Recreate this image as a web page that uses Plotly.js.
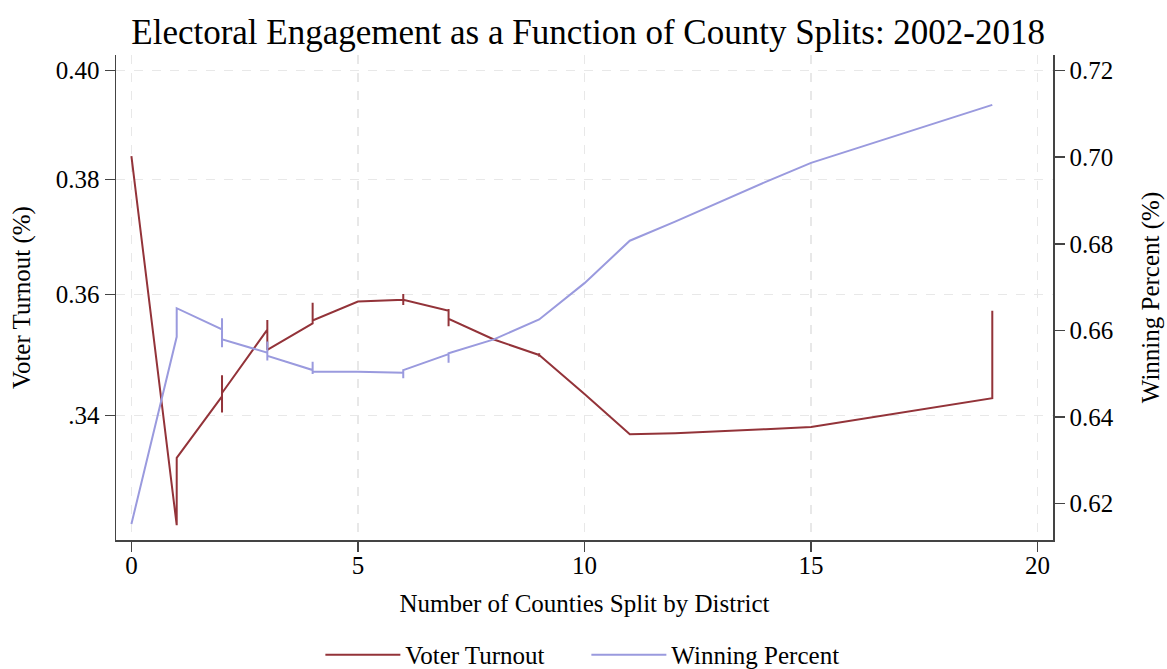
<!DOCTYPE html>
<html><head><meta charset="utf-8">
<script src="https://cdn.plot.ly/plotly-3.0.1.min.js"></script>
<style>html,body{margin:0;padding:0;background:#fff}</style>
</head><body>
<div id="chart" style="width:1167px;height:669px"></div>
<script>
// Number of counties split (repeated x values give Stata-style vertical segments)
const turnoutX = [0,1,1,2,2,2,2,3,3,3,4,4,4,5,6,6,6,6,7,7,7,7,8,9,9,9,9,10,11,12,13,14,15,19,19];
const turnoutY = [0.3846,0.3204,0.3321,0.3428,0.3400,0.3465,0.3434,0.3544,0.3561,0.3509,
                  0.3555,0.3591,0.3560,0.3593,0.3596,0.3606,0.3587,0.3596,0.3577,0.3580,0.3550,0.3563,
                  0.3527,0.3500,0.3503,0.3497,0.3500,0.3432,0.3362,0.3364,0.3367,0.3371,0.3375,0.3425,0.3577];
const winX = [0,1,1,2,2,2,2,3,3,3,3,4,4,4,4,5,6,6,6,6,7,7,7,8,9,10,11,12,13,14,15,19];
const winY = [0.6152,0.6585,0.6651,0.6602,0.6628,0.6561,0.6579,0.6548,0.6574,0.6530,0.6541,
              0.6508,0.6527,0.6499,0.6504,0.6504,0.6502,0.6489,0.6510,0.6508,0.6545,0.6525,0.6547,
              0.6579,0.6625,0.6709,0.6807,0.6851,0.6897,0.6943,0.6987,0.7121];
const xTicks = [0,5,10,15,20];
const leftTickVals = [0.39944,0.38056,0.36056,0.33944];
const leftTickText = ["0.40","0.38","0.36",".34"];
const rightTicks = [0.62,0.64,0.66,0.68,0.70,0.72];

const FONT = "Liberation Serif, Times New Roman, serif";
const RED = "#933339", BLUE = "#9a9ade", AX = "#444";
const FS = 25;

const traces = [
  {x: turnoutX, y: turnoutY, type: "scatter", mode: "lines", name: "Voter Turnout",
   line: {color: RED, width: 2}, yaxis: "y"},
  {x: winX, y: winY, type: "scatter", mode: "lines", name: "Winning Percent",
   line: {color: BLUE, width: 2}, yaxis: "y2"}
];

const layout = {
  width: 1167, height: 669,
  paper_bgcolor: "#fff", plot_bgcolor: "#fff",
  margin: {l: 116, r: 114, t: 55, b: 129, autoexpand: false},
  font: {family: FONT, color: "#000", size: FS},
  title: {text: "Electoral Engagement as a Function of County Splits: 2002-2018",
          font: {family: FONT, size: 35, color: "#000"},
          x: 0.504, xanchor: "center", y: 0.952, yanchor: "middle"},
  xaxis: {range: [-0.34, 20.34], tickvals: xTicks, ticks: "outside", ticklen: 10, tickwidth: 1.5,
          tickcolor: AX, showline: true, linecolor: AX, linewidth: 1.5, zeroline: false,
          showgrid: true, gridcolor: "#e8e8e8", griddash: "dash", gridwidth: 1.5,
          tickfont: {size: FS}, ticklabelstandoff: -8,
          title: {text: "Number of Counties Split by District", font: {size: FS}, standoff: 17}},
  yaxis: {range: [0.31783, 0.40217], tickvals: leftTickVals, ticktext: leftTickText,
          ticks: "outside", ticklen: 10, tickwidth: 1.5, tickcolor: AX,
          showline: true, linecolor: AX, linewidth: 1.5, zeroline: false,
          showgrid: true, gridcolor: "#e8e8e8", griddash: "dash", gridwidth: 1.5,
          tickfont: {size: FS},
          title: {text: "Voter Turnout (%)", font: {size: FS}, standoff: 18}},
  yaxis2: {range: [0.61152, 0.72363], tickvals: rightTicks, tickformat: ".2f",
           overlaying: "y", side: "right",
           ticks: "outside", ticklen: 10, tickwidth: 1.5, tickcolor: AX,
           showline: true, linecolor: AX, linewidth: 1.5, zeroline: false, showgrid: false,
           tickfont: {size: FS},
           title: {text: "Winning Percent (%)", font: {size: FS}, standoff: 28}},
  showlegend: true,
  legend: {orientation: "h", x: 0.502, xanchor: "center", yref: "container", y: 0.021, yanchor: "middle",
           font: {size: FS}, bgcolor: "rgba(0,0,0,0)", itemwidth: 75, entrywidth: 176}
};

Plotly.newPlot("chart", traces, layout, {displayModeBar: false, staticPlot: true});
</script>
</body></html>
